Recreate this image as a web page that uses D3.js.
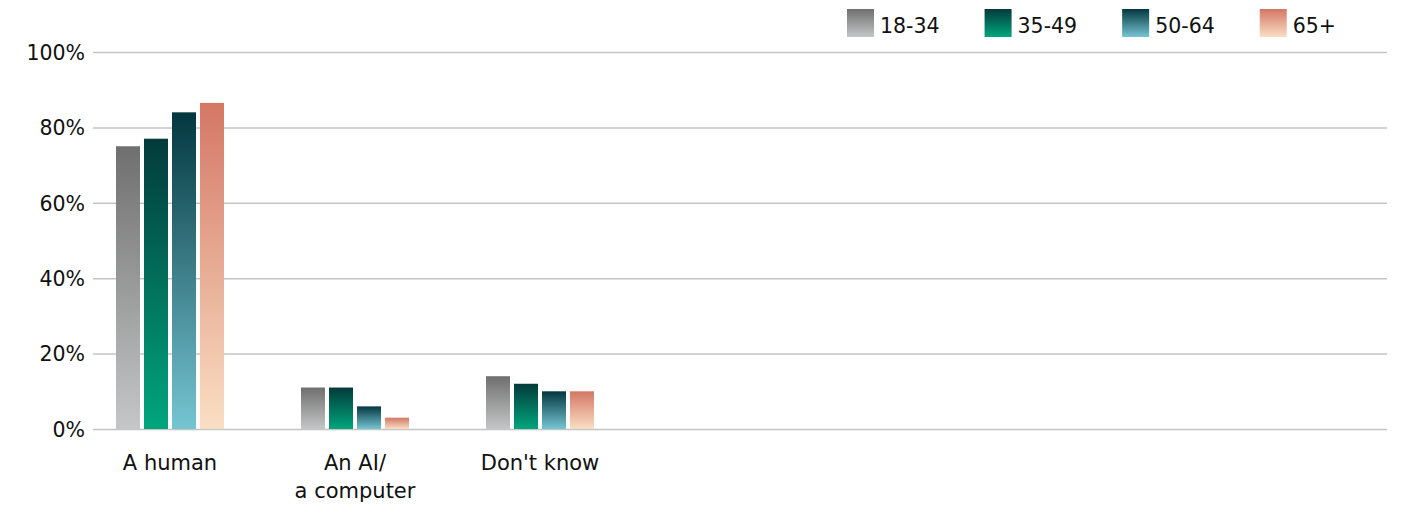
<!DOCTYPE html>
<html>
<head>
<meta charset="utf-8">
<script src="https://cdn.jsdelivr.net/npm/d3@7"></script>
<style>
  html, body { margin: 0; padding: 0; background: #fff; }
  svg { display: block; }
  text { font-family: "DejaVu Sans", sans-serif; fill: #111; }
</style>
</head>
<body>
<svg id="chart" width="1405" height="509"></svg>
<script>
const categories = ["A human", "An AI/\na computer", "Don't know"];
const seriesNames = ["18-34", "35-49", "50-64", "65+"];
const values18_34 = [75, 11, 14];
const values35_49 = [77, 11, 12];
const values50_64 = [84, 6, 10];
const values65plus = [86.5, 3, 10];
const yTicks = [0, 20, 40, 60, 80, 100];
const gradTop = ["#6f6f6f", "#033a3a", "#03373f", "#d47765"];
const gradBottom = ["#c5c6c7", "#00a67d", "#76c5d3", "#fadfc4"];

const seriesValues = [values18_34, values35_49, values50_64, values65plus];

const svg = d3.select("#chart");
const plotLeft = 93, plotRight = 1387, plotTop = 52, plotBottom = 429;
const FONT = "'DejaVu Sans', sans-serif";

const defs = svg.append("defs");
seriesNames.forEach((s, i) => {
  const g = defs.append("linearGradient").attr("id", "grad" + i)
    .attr("x1", 0).attr("y1", 0).attr("x2", 0).attr("y2", 1);
  g.append("stop").attr("offset", "0%").attr("stop-color", gradTop[i]);
  g.append("stop").attr("offset", "100%").attr("stop-color", gradBottom[i]);
});

const y = d3.scaleLinear().domain([0, 100]).range([plotBottom, plotTop]);

// 7 category slots; only the first three hold data
const slots = categories.concat(["_4", "_5", "_6", "_7"]);
const x0 = d3.scaleBand().domain(slots).range([77.5, 1372.5]);
const x1 = d3.scaleBand().domain(seriesNames).range([-54, 54]).paddingInner(1 / 7).paddingOuter(0);

// grid + y labels
const yAxis = d3.axisLeft(y).tickValues(yTicks).tickFormat(d => d + "%")
  .tickSize(-(plotRight - plotLeft)).tickPadding(8);
const ga = svg.append("g").attr("transform", `translate(${plotLeft},0)`).call(yAxis);
ga.select(".domain").remove();
ga.selectAll(".tick line").attr("stroke", "#c4c4c4").attr("stroke-width", 1.5);
ga.selectAll(".tick text").attr("font-size", 20.5).attr("fill", "#111")
  .attr("font-family", FONT).attr("dy", "0.36em");

// bars
const groups = svg.append("g").selectAll("g").data(categories).join("g")
  .attr("transform", d => `translate(${x0(d) + x0.bandwidth() / 2},0)`);
groups.selectAll("rect").data((d, ci) => seriesNames.map((s, si) => ({ s, si, v: seriesValues[si][ci] })))
  .join("rect")
  .attr("x", d => x1(d.s))
  .attr("width", x1.bandwidth())
  .attr("y", d => y(d.v))
  .attr("height", d => y(0) - y(d.v))
  .attr("fill", d => `url(#grad${d.si})`);

// category labels
groups.append("text")
  .attr("text-anchor", "middle")
  .attr("font-size", 21)
  .selectAll("tspan").data(d => d.split("\n")).join("tspan")
  .attr("x", 0)
  .attr("y", (d, i) => 470 + i * 27.5)
  .text(d => d);

// legend
const legend = svg.append("g");
let lx = 847;
seriesNames.forEach((s, i) => {
  const g = legend.append("g").attr("transform", `translate(${lx},9)`);
  g.append("rect").attr("width", 27).attr("height", 28).attr("fill", `url(#grad${i})`);
  const t = g.append("text").attr("x", 33).attr("y", 23.5).attr("font-size", 20.5).text(s);
  const w = t.node().getComputedTextLength();
  lx += 33 + w + 45;
});
</script>
</body>
</html>
